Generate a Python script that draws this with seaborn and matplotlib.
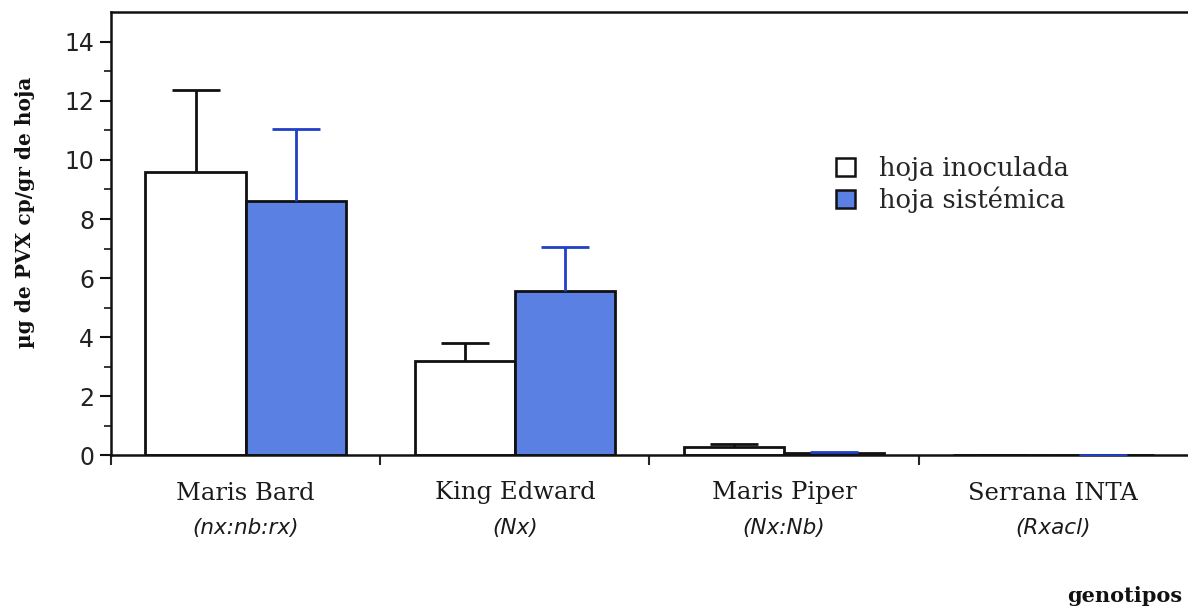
import numpy as np
import pandas as pd
import matplotlib
matplotlib.use("Agg")
import matplotlib.pyplot as plt
import matplotlib.patches as mpatches
import matplotlib.transforms as mtransforms
import seaborn as sns

# Data: PVX coat protein per gram of leaf, by genotype and leaf type
cultivares = ["Maris Bard", "King Edward", "Maris Piper", "Serrana INTA"]
genotipos = ["(nx:nb:rx)", "(Nx)", "(Nx:Nb)", "(Rxacl)"]
hojas = ["hoja inoculada", "hoja sistémica"]
inoculada = [9.6, 3.2, 0.27, 0.0]
inoculada_err = [2.75, 0.6, 0.13, 0.0]
sistemica = [8.6, 5.55, 0.07, 0.0]
sistemica_err = [2.45, 1.5, 0.03, 0.0]

df = pd.DataFrame({
    "cultivar": cultivares * 2,
    "hoja": [hojas[0]] * 4 + [hojas[1]] * 4,
    "valor": inoculada + sistemica,
})

sns.set_theme(style="white")
plt.rcParams["font.family"] = ["DejaVu Sans"]

fill_colors = {hojas[0]: "#ffffff", hojas[1]: "#5b80e4"}
err_specs = [("#111111", inoculada, inoculada_err), ("#2040c8", sistemica, sistemica_err)]

fig = plt.figure(figsize=(11.88, 6.08), dpi=100)
ax = fig.add_axes([0.0934, 0.251, 0.9066, 0.729])

sns.barplot(data=df, x="cultivar", y="valor", hue="hoja",
            order=cultivares, hue_order=hojas, palette=fill_colors, saturation=1,
            width=0.744, errorbar=None, edgecolor="#111111", linewidth=2,
            legend=False, ax=ax)

# Upward-only error bars centred on each bar (no cap at the bar top)
for container, (ecol, vals, errs) in zip(ax.containers, err_specs):
    xs = [p.get_x() + p.get_width() / 2 for p in container.patches]
    eb = ax.errorbar(xs, vals, yerr=[np.zeros(len(errs)), errs], fmt="none",
                     ecolor=ecol, elinewidth=2, capsize=17, capthick=2, zorder=3)
    eb.lines[1][0].set_visible(False)

ax.set_xlim(-0.5, 3.5)
ax.set_ylim(0, 15)

# Spines
for side in ["left", "bottom", "top"]:
    ax.spines[side].set_visible(True)
    ax.spines[side].set_color("#111111")
    ax.spines[side].set_linewidth(1.8)
ax.spines["right"].set_visible(False)

# Y ticks with minor ticks at odd values
ax.set_yticks(np.arange(0, 15, 2))
ax.set_yticks(np.arange(1, 15, 2), minor=True)
ax.tick_params(axis="y", which="major", direction="out", length=8, width=1.5,
               labelsize=17, colors="#111111", left=True, pad=4)
ax.tick_params(axis="y", which="minor", direction="out", length=5, width=1.3, left=True)
for lbl in ax.get_yticklabels():
    lbl.set_color("#222222")

# X ticks at category boundaries, labels drawn as text
ax.set_xticks([-0.5, 0.5, 1.5, 2.5])
ax.set_xticklabels([])
ax.tick_params(axis="x", which="major", direction="out", length=7, width=1.5, bottom=True)
ax.set_xlabel("")
ax.set_ylabel("")

trans = mtransforms.blended_transform_factory(ax.transData, fig.transFigure)
for i, (c, g) in enumerate(zip(cultivares, genotipos)):
    ax.text(i, 1 - 493 / 608, c, transform=trans, ha="center", va="center",
            family="DejaVu Serif", fontsize=17.5, color="#1a1a1a")
    ax.text(i, 1 - 528 / 608, g, transform=trans, ha="center", va="center",
            family="DejaVu Sans", style="italic", fontsize=15.5, color="#1a1a1a")

fig.text(1182 / 1188, 1 - 596 / 608, "genotipos", ha="right", va="center",
         family="DejaVu Serif", fontweight="bold", fontsize=15, color="#111111")
fig.text(25 / 1188, 1 - 212 / 608, "µg de PVX cp/gr de hoja", rotation=90,
         ha="center", va="center", family="DejaVu Serif", fontweight="bold",
         fontsize=14.5, color="#111111")

handles = [mpatches.Patch(facecolor=fill_colors[h], edgecolor="#111111", linewidth=1.8, label=h)
           for h in hojas]
ax.legend(handles=handles, loc="upper left", bbox_to_anchor=(836 / 1188, 1 - 156 / 608),
          bbox_transform=fig.transFigure, frameon=False, borderpad=0, borderaxespad=0,
          prop={"family": "DejaVu Serif", "size": 18.5},
          handlelength=0.72, handleheight=0.72, handletextpad=0.95, labelspacing=0.22)

fig.savefig("out.png", dpi=100, facecolor="white")
